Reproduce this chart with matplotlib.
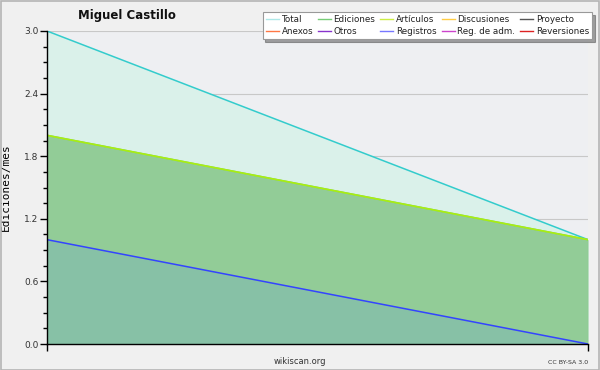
import matplotlib
matplotlib.use("Agg")
import matplotlib.pyplot as plt
from matplotlib.lines import Line2D
from matplotlib.patches import Rectangle
import numpy as np

# Data
months = [0, 1]
total = [3.0, 1.0]
ediciones = [2.0, 1.0]
articulos = [2.0, 1.0]
registros = [1.0, 0.0]

legend_labels = ["Total", "Ediciones", "Artículos", "Discusiones", "Proyecto",
                 "Anexos", "Otros", "Registros", "Reg. de adm.", "Reversiones"]
legend_colors = ["#aee8e8", "#77cc77", "#ccee44", "#ffcc44", "#555555",
                 "#ff7744", "#8833cc", "#7777ff", "#cc44cc", "#dd2222"]
yticks = [0.0, 0.6, 1.2, 1.8, 2.4, 3.0]
ytick_labels = ["0.0", "0.6", "1.2", "1.8", "2.4", "3.0"]

fig = plt.figure(figsize=(6, 3.7), dpi=100)
fig.patch.set_facecolor("#f0f0f0")
fig.add_artist(Rectangle((0.001, 0.001), 0.997, 0.996, transform=fig.transFigure,
                         fill=False, edgecolor="#b4b4b4", linewidth=1.2))

ax = fig.add_axes([47/600, 1-344/370, (588-47)/600, (344-31)/370])
ax.set_facecolor("#eeeff2")

ax.fill_between(months, 0, total, color="#daf1ea", linewidth=0, zorder=2)
ax.plot(months, total, color="#33cccc", linewidth=1.1, zorder=5)
ax.fill_between(months, 0, ediciones, color="#92cc97", linewidth=0, zorder=3)
ax.plot(months, ediciones, color="#77cc77", linewidth=1.2, zorder=5)
ax.plot(months, articulos, color="#aaee11", linewidth=1.2, zorder=6)
ax.fill_between(months, 0, registros, color="#87c1a6", linewidth=0, zorder=4)
ax.plot(months, registros, color="#3344ff", linewidth=1.1, zorder=6)
ax.axvline(1, ymin=0, ymax=1/3, color="#77cc77", linewidth=0.8, zorder=5)

ax.set_xlim(0, 1)
ax.set_ylim(0, 3.0)
ax.set_yticks(yticks)
ax.set_yticklabels(ytick_labels)
ax.set_yticks(np.arange(0, 3.0001, 0.15), minor=True)
ax.set_xticks([0, 1])
ax.set_xticklabels(["", ""])
ax.grid(axis="y", which="major", color="#c8c8c8", linewidth=0.8, zorder=1)
ax.set_axisbelow(True)
for s in ["top", "right"]:
    ax.spines[s].set_visible(False)
for s in ["left", "bottom"]:
    ax.spines[s].set_color("black")
    ax.spines[s].set_linewidth(1.0)
    ax.spines[s].set_zorder(7)
ax.tick_params(axis="y", which="major", length=5, width=1, labelsize=6.5, colors="black", labelcolor="#333333", pad=1)
ax.tick_params(axis="y", which="minor", length=3, width=1)
ax.tick_params(axis="x", which="major", length=5, width=1)

ax.set_ylabel("Ediciones/mes", fontsize=8, family="DejaVu Sans Mono", labelpad=10)

fig.text(127/600, 1-15/370, "Miguel Castillo", ha="center", va="center",
         fontsize=8.5, fontweight="bold", color="#111111")
fig.text(300/600, 1-361/370, "wikiscan.org", ha="center", va="center",
         fontsize=6, color="#333333")
fig.text(568/600, 1-362/370, "CC BY-SA 3.0", ha="center", va="center",
         fontsize=4.5, color="#333333")

handles = [Line2D([0], [0], color=c, linewidth=1.0) for c in legend_colors]
order = []
for col in range(5):
    order += [col, col + 5]
leg = fig.legend([handles[i] for i in order], [legend_labels[i] for i in order],
                 ncol=5, loc="upper right", bbox_to_anchor=(592/600, 1-12/370),
                 fontsize=6.3, frameon=True, fancybox=False, shadow=True,
                 handlelength=1.5, handletextpad=0.3, columnspacing=0.55,
                 labelspacing=0.3, borderpad=0.35, borderaxespad=0)
leg.get_frame().set_edgecolor("#999999")
leg.get_frame().set_linewidth(0.8)
for t in leg.get_texts():
    t.set_color("#222222")

fig.savefig("out.png", dpi=100, facecolor=fig.get_facecolor())
